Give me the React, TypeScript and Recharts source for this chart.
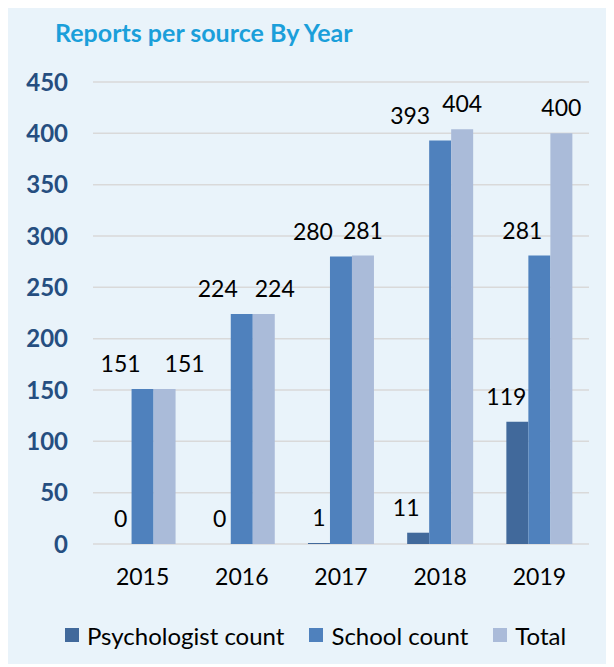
import { BarChart, Bar, XAxis, YAxis, CartesianGrid, Legend, LabelList } from 'recharts';

const years = ['2015', '2016', '2017', '2018', '2019'];
const psychologistCount = [0, 0, 1, 11, 119];
const schoolCount = [151, 224, 280, 393, 281];
const totalCount = [151, 224, 281, 404, 400];
const yTicks = [0, 50, 100, 150, 200, 250, 300, 350, 400, 450];

// manual label nudges from the original (labels were dragged apart there)
const psychLabelDx = [0, 0, 0, -12, -11];
const schoolLabelDx = [-22, -24, -28, -30, -17];
const totalLabelDx = [20, 11, 0, 0, 0];

const FONT = 'Lato, "Open Sans", sans-serif';
const COLORS = { psych: '#41699b', school: '#4f81bd', total: '#aabbd9' };
const LABEL_SIZE = 23;

const data = years.map((year, i) => ({
  year,
  psych: psychologistCount[i],
  school: schoolCount[i],
  total: totalCount[i],
}));

const legendItems = [
  { label: 'Psychologist count', color: COLORS.psych },
  { label: 'School count', color: COLORS.school },
  { label: 'Total', color: COLORS.total },
];

function makeLabel(dxs: number[]) {
  return (props: any) => {
    const vb = props.viewBox || props;
    const x = vb.x + vb.width / 2 + (dxs[props.index] || 0);
    const y = vb.y - 17;
    return (
      <text x={x} y={y} textAnchor="middle" fill="#000" fontSize={LABEL_SIZE} fontFamily={FONT}>
        {props.value}
      </text>
    );
  };
}

// psychologist labels are hung off the school bars, since zero-height bars get no label
function psychLabel(props: any) {
  const vb = props.viewBox || props;
  const i = props.index;
  const perUnit = vb.height / schoolCount[i];
  const x = vb.x - vb.width / 2 + (psychLabelDx[i] || 0);
  const y = vb.y + vb.height - psychologistCount[i] * perUnit - 17;
  return (
    <text x={x} y={y} textAnchor="middle" fill="#000" fontSize={LABEL_SIZE} fontFamily={FONT}>
      {psychologistCount[i]}
    </text>
  );
}

function LegendContent() {
  return (
    <div style={{ display: 'flex', alignItems: 'center', paddingLeft: 57, height: 30, fontFamily: FONT, fontSize: 24, color: '#000' }}>
      {legendItems.map(item => (
        <div key={item.label} style={{ display: 'flex', alignItems: 'center', marginRight: 25 }}>
          <span style={{ width: 14, height: 14, background: item.color, marginRight: 8, display: 'inline-block' }} />
          <span>{item.label}</span>
        </div>
      ))}
    </div>
  );
}

export default function App() {
  return (
    <div style={{ position: 'relative', width: 604, height: 656, background: '#e9f3fa', fontFamily: FONT }}>
      <div style={{ position: 'absolute', left: 47, top: 12, fontSize: 25, lineHeight: 1, fontWeight: 700, color: '#1b9fda' }}>
        Reports per source By Year
      </div>
      <BarChart
        width={604}
        height={656}
        data={data}
        margin={{ top: 74, right: 23, bottom: 14, left: 0 }}
        barCategoryGap="16.7%"
        barGap={0}
      >
        <CartesianGrid vertical={false} stroke="#d9d9d9" strokeWidth={1.5} />
        <XAxis
          dataKey="year"
          height={76}
          tickLine={false}
          axisLine={false}
          tickMargin={19}
          tick={{ fill: '#000', fontSize: 23, fontFamily: FONT }}
        />
        <YAxis
          width={85}
          domain={[0, 450]}
          ticks={yTicks}
          interval={0}
          tickLine={false}
          axisLine={false}
          tickMargin={19}
          tick={{ fill: '#254e80', fontSize: 24, fontWeight: 700, fontFamily: FONT }}
        />
        <Legend verticalAlign="bottom" wrapperStyle={{ left: 0, width: 604 }} content={<LegendContent />} />
        <Bar dataKey="psych" name="Psychologist count" fill={COLORS.psych} isAnimationActive={false} />
        <Bar dataKey="school" name="School count" fill={COLORS.school} isAnimationActive={false}>
          <LabelList dataKey="psych" content={psychLabel} />
          <LabelList dataKey="school" content={makeLabel(schoolLabelDx)} />
        </Bar>
        <Bar dataKey="total" name="Total" fill={COLORS.total} isAnimationActive={false}>
          <LabelList dataKey="total" content={makeLabel(totalLabelDx)} />
        </Bar>
      </BarChart>
    </div>
  );
}
